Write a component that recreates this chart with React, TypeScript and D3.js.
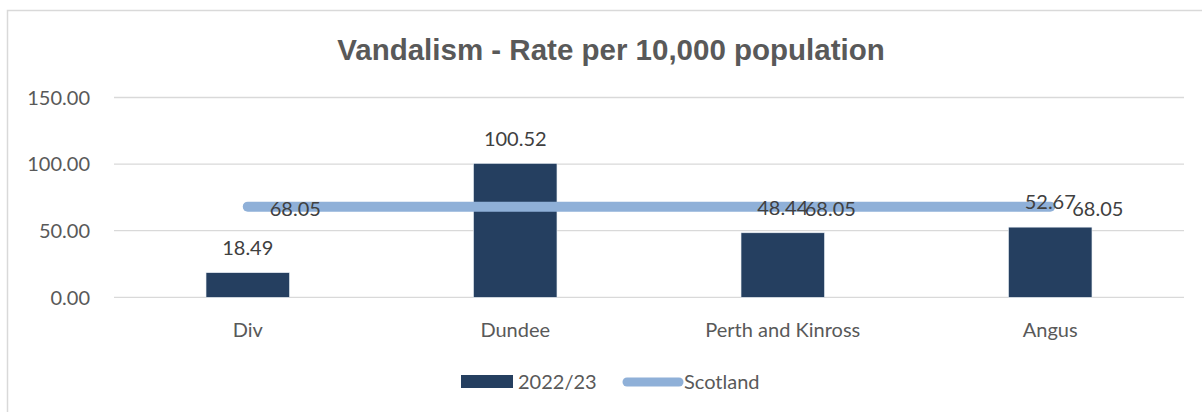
import React from "react";
import * as d3 from "d3";

const categories = ["Div", "Dundee", "Perth and Kinross", "Angus"];
const rate2223 = [18.49, 100.52, 48.44, 52.67];
const scotland = [68.05, 68.05, 68.05, 68.05];
const scotlandLabelShown = [true, false, true, true];
const yTicks = [0, 50, 100, 150];
const title = "Vandalism - Rate per 10,000 population";
const seriesNames = ["2022/23", "Scotland"];

const W = 1202;
const H = 412;
const FONT = "Lato, 'Open Sans', sans-serif";

export default function App() {
  const x = d3.scaleBand<string>().domain(categories).range([114, 1184]).paddingInner(0).paddingOuter(0);
  const y = d3.scaleLinear().domain([0, 150]).range([297.3, 97.5]);
  const barW = x.bandwidth() * 0.312;
  const cx = (c: string) => (x(c) as number) + x.bandwidth() / 2;
  const line = d3
    .line<number>()
    .x((_, i) => cx(categories[i]))
    .y((d) => y(d));

  return (
    <svg width={W} height={H} style={{ position: "absolute", left: 0, top: 0 }}>
      <rect x={0} y={0} width={W} height={H} fill="#fff" />
      <rect x={7.5} y={10.5} width={W + 20} height={H + 20} fill="none" stroke="#d9d9d9" strokeWidth={1.5} />
      <text x={611} y={59.5} textAnchor="middle" fontFamily="'Liberation Sans', Arial, sans-serif" fontWeight="bold" fontSize={29.5} fill="#595959">
        {title}
      </text>
      {yTicks.map((t) => (
        <g key={t}>
          <line x1={114} x2={1184} y1={y(t)} y2={y(t)} stroke="#d9d9d9" strokeWidth={1.3} />
          <text x={90} y={y(t)} dy="0.36em" textAnchor="end" fontFamily={FONT} fontSize={20} fill="#595959">
            {t.toFixed(2)}
          </text>
        </g>
      ))}
      {categories.map((c, i) => (
        <g key={c}>
          <rect x={cx(c) - barW / 2} y={y(rate2223[i])} width={barW} height={y(0) - y(rate2223[i])} fill="#253f60" stroke="#e8eef5" strokeWidth={0.6} />
          <text x={cx(c)} y={330} dy="0.36em" textAnchor="middle" fontFamily={FONT} fontSize={20} fill="#595959">
            {c}
          </text>
        </g>
      ))}
      <path d={line(scotland) || ""} fill="none" stroke="#8fb0d8" strokeWidth={10} strokeLinecap="round" />
      {categories.map((c, i) => (
        <text key={"b" + c} x={cx(c)} y={y(rate2223[i]) - 25} dy="0.36em" textAnchor="middle" fontFamily={FONT} fontSize={20} fill="#404040">
          {rate2223[i].toFixed(2)}
        </text>
      ))}
      {categories.map((c, i) =>
        scotlandLabelShown[i] ? (
          <text key={"s" + c} x={cx(c) + 22} y={y(scotland[i]) + 2} dy="0.36em" textAnchor="start" fontFamily={FONT} fontSize={20} fill="#404040">
            {scotland[i].toFixed(2)}
          </text>
        ) : null
      )}
      <rect x={461} y={375} width={52} height={13} fill="#253f60" />
      <text x={518} y={382} dy="0.36em" fontFamily={FONT} fontSize={20} fill="#595959">
        {seriesNames[0]}
      </text>
      <line x1={627} x2={679} y1={382} y2={382} stroke="#8fb0d8" strokeWidth={9} strokeLinecap="round" />
      <text x={684} y={382} dy="0.36em" fontFamily={FONT} fontSize={20} fill="#595959">
        {seriesNames[1]}
      </text>
    </svg>
  );
}
